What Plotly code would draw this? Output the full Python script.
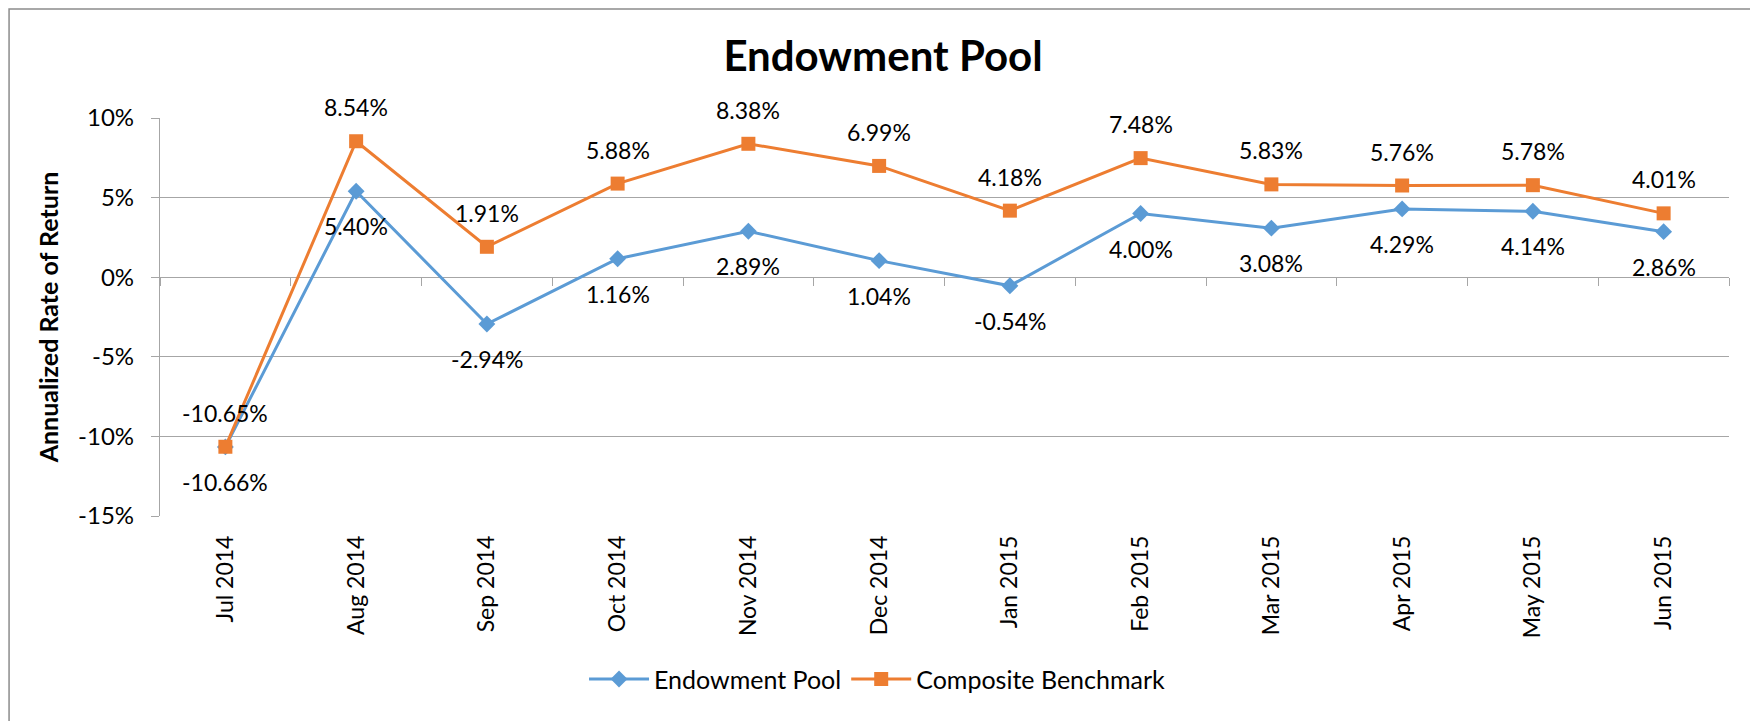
import plotly.graph_objects as go


MONTHS = [
    "Jul 2014", "Aug 2014", "Sep 2014", "Oct 2014", "Nov 2014", "Dec 2014",
    "Jan 2015", "Feb 2015", "Mar 2015", "Apr 2015", "May 2015", "Jun 2015",
]
ENDOWMENT_POOL = [-10.66, 5.40, -2.94, 1.16, 2.89, 1.04, -0.54, 4.00, 3.08, 4.29, 4.14, 2.86]
COMPOSITE_BENCHMARK = [-10.65, 8.54, 1.91, 5.88, 8.38, 6.99, 4.18, 7.48, 5.83, 5.76, 5.78, 4.01]
Y_TICK_VALUES = [-15, -10, -5, 0, 5, 10]
Y_TICK_LABELS = ["-15%", "-10%", "-5%", "0%", "5%", "10%"]

BLUE = "#5B9BD5"
ORANGE = "#ED7D31"
GRID = "#A6A6A6"
FONT = "Lato"


def build_figure() -> go.Figure:
    fig = go.Figure()

    fig.add_trace(
        go.Scatter(
            x=MONTHS,
            y=ENDOWMENT_POOL,
            name="Endowment Pool",
            mode="lines+markers",
            line=dict(color=BLUE, width=3),
            marker=dict(symbol="diamond", size=13, color=BLUE),
        )
    )
    # benchmark sits on the overlay axis that carries the tick marks at 0%
    fig.add_trace(
        go.Scatter(
            x=MONTHS,
            y=COMPOSITE_BENCHMARK,
            name="Composite Benchmark",
            mode="lines+markers",
            line=dict(color=ORANGE, width=3),
            marker=dict(symbol="square", size=14, color=ORANGE),
            xaxis="x2",
        )
    )

    # data labels: benchmark above the point, endowment below
    for month, value in zip(MONTHS, COMPOSITE_BENCHMARK):
        fig.add_annotation(
            x=month, y=value, text=f"{value:.2f}%", showarrow=False,
            yshift=34, font=dict(family=FONT, size=23, color="#000000"),
        )
    for month, value in zip(MONTHS, ENDOWMENT_POOL):
        fig.add_annotation(
            x=month, y=value, text=f"{value:.2f}%", showarrow=False,
            yshift=-35, font=dict(family=FONT, size=23, color="#000000"),
        )

    category_axis = dict(
        type="category",
        categoryorder="array",
        categoryarray=MONTHS,
        range=[-0.5, len(MONTHS) - 0.5],
    )

    # the page body adds 8px on the left and top, so the figure is 8px smaller
    fig.update_layout(
        width=1750,
        height=713,
        margin=dict(l=152, r=29, t=110, b=205),
        paper_bgcolor="white",
        plot_bgcolor="white",
        font=dict(family=FONT, size=22, color="#000000"),
        title=dict(
            text="<b>Endowment Pool</b>",
            x=0.5,
            xref="container",
            xanchor="center",
            y=0.932,
            yanchor="middle",
            font=dict(family=FONT, size=42, color="#000000"),
        ),
        xaxis=dict(
            **category_axis,
            showline=False,
            showgrid=False,
            ticks="",
            tickangle=-90,
            ticklabelstandoff=14,
            tickfont=dict(family=FONT, size=23),
        ),
        xaxis2=dict(
            **category_axis,
            overlaying="x",
            anchor="free",
            position=0.6,
            side="bottom",
            showline=False,
            showgrid=False,
            showticklabels=False,
            ticks="outside",
            tickson="boundaries",
            ticklen=8,
            tickwidth=1.3,
            tickcolor=GRID,
        ),
        yaxis=dict(
            range=[-15, 10],
            tickvals=Y_TICK_VALUES,
            ticktext=Y_TICK_LABELS,
            showgrid=True,
            gridcolor=GRID,
            gridwidth=1.3,
            zeroline=True,
            zerolinecolor=GRID,
            zerolinewidth=1.3,
            showline=True,
            linecolor=GRID,
            linewidth=1.3,
            ticks="outside",
            ticklen=8,
            tickwidth=1.3,
            tickcolor=GRID,
            ticklabelstandoff=12,
            tickfont=dict(family=FONT, size=24),
            title=dict(
                text="<b>Annualized Rate of Return</b>",
                font=dict(family=FONT, size=25),
                standoff=12,
            ),
        ),
        legend=dict(
            orientation="h",
            x=0.457,
            xanchor="center",
            y=-0.41,
            yanchor="middle",
            font=dict(family=FONT, size=25),
            itemwidth=60,
        ),
        showlegend=True,
        hovermode="x unified",
    )

    # light gray chart-area frame (left and top edges show in the picture)
    fig.add_shape(
        type="rect", xref="paper", yref="paper",
        x0=-0.0962, x1=1.2, y0=-1.0, y1=1.274,
        line=dict(color="#8C8C8C", width=1.5), layer="below",
    )

    return fig


def main() -> None:
    fig = build_figure()
    fig.write_html("out.html")


if __name__ == "__main__":
    main()
